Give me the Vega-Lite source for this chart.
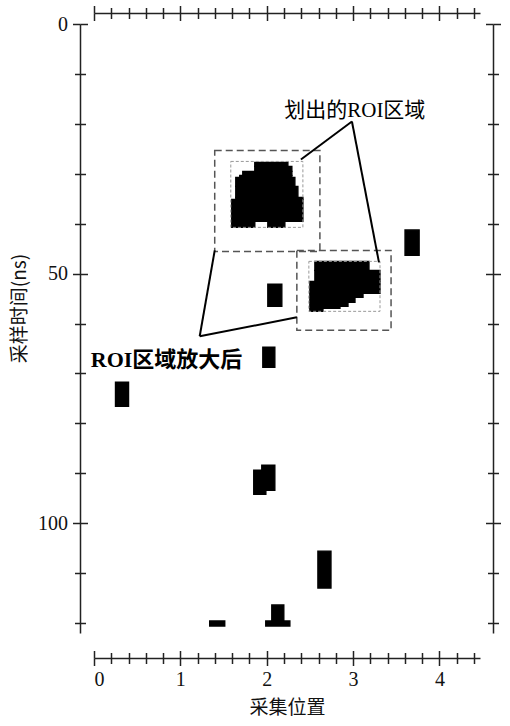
{
  "$schema": "https://vega.github.io/schema/vega-lite/v6.json",
  "autosize": {"type": "none"},
  "padding": {"left": 94, "top": 24, "right": 30, "bottom": 93},
  "width": 386,
  "height": 609,
  "background": "white",
  "config": {
    "view": {"stroke": null},
    "axis": {"grid": false, "domainColor": "#222", "domainWidth": 1.5, "tickColor": "#222", "tickWidth": 1.5, "labelFont": "Liberation Serif", "labelFontSize": 20, "labelColor": "#111", "titleFont": "Noto Sans CJK SC", "titleFontSize": 19, "titleFontWeight": "normal", "titleColor": "#111"}
  },
  "datasets": {
    "blobs": [
      {"x1": 1.862, "x2": 2.245, "y1": 27.73, "y2": 28.53},
      {"x1": 1.862, "x2": 2.291, "y1": 28.53, "y2": 29.53},
      {"x1": 1.723, "x2": 2.291, "y1": 29.53, "y2": 30.33},
      {"x1": 1.688, "x2": 2.291, "y1": 30.33, "y2": 30.73},
      {"x1": 1.642, "x2": 2.326, "y1": 30.73, "y2": 32.53},
      {"x1": 1.642, "x2": 2.361, "y1": 32.53, "y2": 34.73},
      {"x1": 1.642, "x2": 2.419, "y1": 34.73, "y2": 35.14},
      {"x1": 1.595, "x2": 2.419, "y1": 35.14, "y2": 39.54},
      {"x1": 1.595, "x2": 1.862, "y1": 39.54, "y2": 40.74},
      {"x1": 2.013, "x2": 2.21, "y1": 39.54, "y2": 40.74},
      {"x1": 2.558, "x2": 3.184, "y1": 47.55, "y2": 49.35},
      {"x1": 2.558, "x2": 3.312, "y1": 49.35, "y2": 51.55},
      {"x1": 2.5, "x2": 3.312, "y1": 51.55, "y2": 53.95},
      {"x1": 2.5, "x2": 3.115, "y1": 53.95, "y2": 54.75},
      {"x1": 2.5, "x2": 3.022, "y1": 54.75, "y2": 55.76},
      {"x1": 2.5, "x2": 2.941, "y1": 55.76, "y2": 56.56},
      {"x1": 2.5, "x2": 2.848, "y1": 56.56, "y2": 56.96},
      {"x1": 2.5, "x2": 2.651, "y1": 56.96, "y2": 57.56},
      {"x1": 3.602, "x2": 3.765, "y1": 41.28, "y2": 46.35},
      {"x1": 2.013, "x2": 2.175, "y1": 52.15, "y2": 56.56},
      {"x1": 1.955, "x2": 2.094, "y1": 64.76, "y2": 68.77},
      {"x1": 0.249, "x2": 0.4, "y1": 71.77, "y2": 76.58},
      {"x1": 1.85, "x2": 1.99, "y1": 89.39, "y2": 94.19},
      {"x1": 1.943, "x2": 2.094, "y1": 88.39, "y2": 93.39},
      {"x1": 2.593, "x2": 2.744, "y1": 105.6, "y2": 113.0},
      {"x1": 1.34, "x2": 1.514, "y1": 119.6, "y2": 120.6},
      {"x1": 2.059, "x2": 2.198, "y1": 116.4, "y2": 119.6},
      {"x1": 1.989, "x2": 2.268, "y1": 119.6, "y2": 120.6}
    ],
    "outer": [
      {"x1": 1.398, "x2": 2.616, "y1": 25.33, "y2": 45.55},
      {"x1": 2.349, "x2": 3.44, "y1": 45.35, "y2": 61.36}
    ],
    "inner": [
      {"x1": 1.584, "x2": 2.419, "y1": 27.53, "y2": 40.74},
      {"x1": 2.488, "x2": 3.312, "y1": 47.55, "y2": 57.56}
    ],
    "lines": [
      {"x1": 2.987, "y1": 19.52, "x2": 2.396, "y2": 27.13},
      {"x1": 2.987, "y1": 19.52, "x2": 3.3, "y2": 47.75},
      {"x1": 1.224, "y1": 62.56, "x2": 1.398, "y2": 45.35},
      {"x1": 1.224, "y1": 62.56, "x2": 2.349, "y2": 58.76}
    ],
    "label1": [
      {"x": 3.02, "y": 17.4, "text": "划出的ROI区域"}
    ],
    "label2": [
      {"x": 0.84, "y": 67.4, "text": "ROI区域放大后"}
    ]
  },
  "resolve": {"axis": {"x": "independent", "y": "independent"}},
  "layer": [
    {
      "data": {"name": "blobs"},
      "mark": {"type": "rect", "color": "black", "stroke": "black", "strokeWidth": 1.4},
      "encoding": {
        "x": {"field": "x1", "type": "quantitative", "scale": {"domain": [0, 4.47], "nice": false, "zero": false},
          "axis": {"orient": "bottom", "offset": 25, "values": [0,0.2,0.4,0.6,0.8,1,1.2,1.4,1.6,1.8,2,2.2,2.4,2.6,2.8,3,3.2,3.4,3.6,3.8,4,4.2,4.4],
            "labelExpr": "abs(datum.value - round(datum.value)) < 0.01 ? '' + round(datum.value) : ''",
            "tickSize": {"condition": {"test": "abs(datum.value - round(datum.value)) > 0.01", "value": 5.5}, "value": 7.5},
            "labelPadding": 4, "title": "采集位置", "titlePadding": 9}},
        "x2": {"field": "x2"},
        "y": {"field": "y1", "type": "quantitative", "scale": {"domain": [0, 122], "nice": false, "zero": false, "reverse": true},
          "axis": {"orient": "left", "offset": 14, "values": [0,10,20,30,40,50,60,70,80,90,100,110,120],
            "labelExpr": "datum.value % 50 === 0 ? datum.label : ''",
            "tickSize": {"condition": {"test": "datum.value % 50 !== 0", "value": 5.5}, "value": 7.5},
            "labelPadding": 5, "title": "采样时间(ns)", "titlePadding": 8, "titleY": 284}},
        "y2": {"field": "y2"}
      }
    },
    {
      "data": {"name": "outer"},
      "mark": {"type": "rect", "fill": null, "filled": false, "stroke": "#555", "strokeWidth": 1.5, "strokeDash": [7, 4]},
      "encoding": {
        "x": {"field": "x1", "type": "quantitative", "scale": {"domain": [0, 4.47], "nice": false, "zero": false},
          "axis": {"orient": "bottom", "offset": 25, "values": [0,0.2,0.4,0.6,0.8,1,1.2,1.4,1.6,1.8,2,2.2,2.4,2.6,2.8,3,3.2,3.4,3.6,3.8,4,4.2,4.4],
            "labels": false, "domain": false, "title": null,
            "tickSize": {"condition": {"test": "abs(datum.value - round(datum.value)) > 0.01", "value": -5.5}, "value": -7.5}}},
        "x2": {"field": "x2"},
        "y": {"field": "y1", "type": "quantitative", "scale": {"domain": [0, 122], "nice": false, "zero": false, "reverse": true},
          "axis": {"orient": "left", "offset": 14, "values": [0,10,20,30,40,50,60,70,80,90,100,110,120],
            "labels": false, "domain": false, "title": null,
            "tickSize": {"condition": {"test": "datum.value % 50 !== 0", "value": -5.5}, "value": -7.5}}},
        "y2": {"field": "y2"}
      }
    },
    {
      "data": {"name": "inner"},
      "mark": {"type": "rect", "fill": null, "filled": false, "stroke": "#999", "strokeWidth": 1, "strokeDash": [3, 2]},
      "encoding": {
        "x": {"field": "x1", "type": "quantitative", "scale": {"domain": [0, 4.47], "nice": false, "zero": false},
          "axis": {"orient": "top", "offset": 11, "values": [0,0.2,0.4,0.6,0.8,1,1.2,1.4,1.6,1.8,2,2.2,2.4,2.6,2.8,3,3.2,3.4,3.6,3.8,4,4.2,4.4],
            "labels": false, "title": null,
            "tickSize": {"condition": {"test": "abs(datum.value - round(datum.value)) > 0.01", "value": 5.5}, "value": 7.5}}},
        "x2": {"field": "x2"},
        "y": {"field": "y1", "type": "quantitative", "scale": {"domain": [0, 122], "nice": false, "zero": false, "reverse": true},
          "axis": {"orient": "right", "offset": 13, "values": [0,10,20,30,40,50,60,70,80,90,100,110,120],
            "labels": false, "title": null,
            "tickSize": {"condition": {"test": "datum.value % 50 !== 0", "value": 5.5}, "value": 7.5}}},
        "y2": {"field": "y2"}
      }
    },
    {
      "data": {"name": "lines"},
      "mark": {"type": "rule", "color": "black", "strokeWidth": 2},
      "encoding": {
        "x": {"field": "x1", "type": "quantitative", "scale": {"domain": [0, 4.47], "nice": false, "zero": false},
          "axis": {"orient": "top", "offset": 11, "values": [0,0.2,0.4,0.6,0.8,1,1.2,1.4,1.6,1.8,2,2.2,2.4,2.6,2.8,3,3.2,3.4,3.6,3.8,4,4.2,4.4],
            "labels": false, "domain": false, "title": null,
            "tickSize": {"condition": {"test": "abs(datum.value - round(datum.value)) > 0.01", "value": -5.5}, "value": -7.5}}},
        "x2": {"field": "x2"},
        "y": {"field": "y1", "type": "quantitative", "scale": {"domain": [0, 122], "nice": false, "zero": false, "reverse": true},
          "axis": {"orient": "right", "offset": 13, "values": [0,10,20,30,40,50,60,70,80,90,100,110,120],
            "labels": false, "domain": false, "title": null,
            "tickSize": {"condition": {"test": "datum.value % 50 !== 0", "value": -5.5}, "value": -7.5}}},
        "y2": {"field": "y2"}
      }
    },
    {
      "data": {"name": "label1"},
      "mark": {"type": "text", "font": "Liberation Serif, Noto Sans CJK SC", "fontSize": 21, "fontWeight": "normal", "color": "black", "align": "center", "baseline": "middle"},
      "encoding": {
        "x": {"field": "x", "type": "quantitative", "scale": {"domain": [0, 4.47], "nice": false, "zero": false}, "axis": null},
        "y": {"field": "y", "type": "quantitative", "scale": {"domain": [0, 122], "nice": false, "zero": false, "reverse": true}, "axis": null},
        "text": {"field": "text"}
      }
    },
    {
      "data": {"name": "label2"},
      "mark": {"type": "text", "font": "Liberation Serif, Noto Sans CJK SC", "fontSize": 22, "fontWeight": "bold", "color": "black", "align": "center", "baseline": "middle"},
      "encoding": {
        "x": {"field": "x", "type": "quantitative", "scale": {"domain": [0, 4.47], "nice": false, "zero": false}, "axis": null},
        "y": {"field": "y", "type": "quantitative", "scale": {"domain": [0, 122], "nice": false, "zero": false, "reverse": true}, "axis": null},
        "text": {"field": "text"}
      }
    }
  ]
}
